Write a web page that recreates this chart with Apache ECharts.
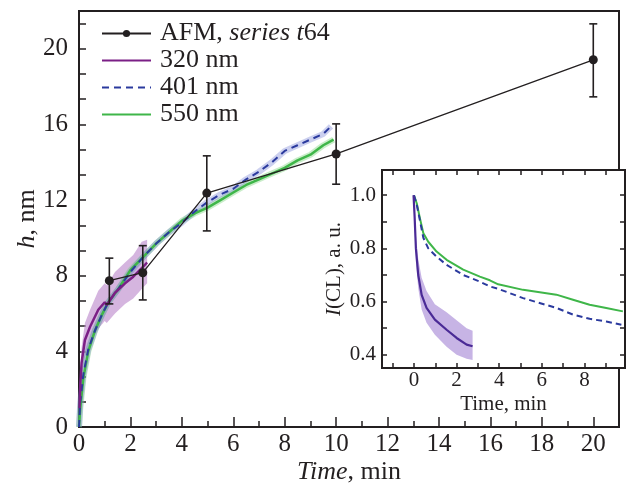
<!DOCTYPE html>
<html><head><meta charset="utf-8">
<script src="https://cdn.jsdelivr.net/npm/echarts@6/dist/echarts.min.js"></script>
<style>html,body{margin:0;padding:0;background:#fff}#c{width:628px;height:491px}</style>
</head><body><div id="c"></div>
<script>
// ---- AFM data (main plot) ----
const afmT  = [1.18, 2.48, 4.97, 10.0, 20.0];
const afmH  = [7.74, 8.16, 12.37, 14.44, 19.42];
const afmLo = [6.51, 6.72, 10.37, 12.84, 17.46];
const afmHi = [8.93, 9.59, 14.34, 16.03, 21.32];

// ---- 320 nm (main) ----
const t320   = [0.02, 0.05, 0.1, 0.23, 0.43, 0.75, 1.0, 1.08, 1.4, 1.79, 2.11, 2.44, 2.65];
const h320   = [1.0, 2.2, 3.4, 4.6, 5.3, 6.2, 6.6, 6.45, 7.1, 7.6, 7.95, 8.4, 8.7];
const h320Lo = [0.4, 1.5, 2.6, 3.7, 4.4, 5.2, 5.6, 5.5, 6.0, 6.5, 6.8, 7.3, 7.6];
const h320Hi = [1.6, 2.9, 4.2, 5.5, 6.2, 7.2, 7.6, 7.5, 8.2, 8.7, 9.1, 9.8, 9.9];

// ---- 401 nm (main) ----
const t401 = [0, 0.05, 0.17, 0.36, 0.62, 0.88, 1.14, 1.53, 2.0, 2.5, 3.0, 3.5, 4.0, 4.5, 5.0, 5.5, 6.0, 6.5, 7.0, 7.5, 8.0, 8.5, 9.0, 9.5, 9.8];
const h401 = [0, 1.3, 2.8, 4.1, 5.1, 5.9, 6.6, 7.3, 8.2, 9.0, 9.7, 10.3, 10.8, 11.4, 11.9, 12.3, 12.6, 13.1, 13.5, 14.0, 14.6, 14.9, 15.2, 15.5, 15.9];

// ---- 550 nm (main) ----
const t550 = [0, 0.05, 0.17, 0.36, 0.62, 0.88, 1.14, 1.53, 2.0, 2.5, 3.0, 3.5, 4.0, 4.5, 5.0, 5.5, 6.0, 6.5, 7.0, 7.5, 8.0, 8.5, 9.0, 9.5, 9.9];
const h550 = [0, 1.0, 2.6, 4.0, 5.1, 5.9, 6.6, 7.3, 8.3, 9.0, 9.7, 10.3, 10.9, 11.3, 11.6, 12.0, 12.4, 12.8, 13.1, 13.4, 13.7, 14.1, 14.4, 14.9, 15.2];

// ---- inset: I(CL) vs time ----
const tIn550 = [0, 0.13, 0.28, 0.44, 0.67, 1.06, 1.53, 2.31, 3.09, 3.56, 3.95, 5.12, 6.68, 7.46, 8.24, 9.02, 9.8];
const iIn550 = [1.0, 0.97, 0.913, 0.857, 0.825, 0.788, 0.757, 0.72, 0.694, 0.68, 0.665, 0.644, 0.626, 0.607, 0.588, 0.576, 0.563];
const tIn401 = [0, 0.13, 0.28, 0.44, 0.67, 1.06, 1.53, 2.31, 3.09, 3.56, 3.95, 5.12, 6.68, 7.46, 8.24, 9.02, 9.73];
const iIn401 = [1.0, 0.965, 0.905, 0.84, 0.80, 0.769, 0.738, 0.70, 0.675, 0.657, 0.648, 0.613, 0.576, 0.551, 0.535, 0.525, 0.513];
const tIn320   = [-0.02, 0.03, 0.09, 0.2, 0.36, 0.59, 0.98, 1.53, 2.0, 2.47, 2.75];
const iIn320   = [1.0, 0.92, 0.80, 0.70, 0.625, 0.576, 0.532, 0.494, 0.463, 0.438, 0.432];
const iIn320Lo = [0.98, 0.88, 0.75, 0.65, 0.57, 0.52, 0.475, 0.43, 0.40, 0.385, 0.38];
const iIn320Hi = [1.0, 0.95, 0.85, 0.76, 0.69, 0.64, 0.59, 0.56, 0.53, 0.50, 0.49];

// ---- ticks ----
const mainXLabels = [0, 2, 4, 6, 8, 10, 12, 14, 16, 18, 20];
const mainXMinor  = [1, 3, 5, 7, 9, 11, 13, 15, 17, 19];
const mainYLabels = [0, 4, 8, 12, 16, 20];
const mainYTicks  = [];
for (let k = 0; k <= 16; k++) mainYTicks.push(k * 4 / 3);
const inXLabels = [0, 2, 4, 6, 8];
const inXTicks  = [-1, 0, 1, 2, 3, 4, 5, 6, 7, 8, 9];
const inYLabels = [0.4, 0.6, 0.8, 1.0];
const inYTicks  = [0.4, 0.5, 0.6, 0.7, 0.8, 0.9, 1.0];

const FF = "'Liberation Serif', 'Times New Roman', serif";
const INK = '#231f20';

const zip = (a, b) => a.map((v, i) => [v, b[i]]);

function band(xs, lo, hi, xi, yi, color, z) {
  return {
    type: 'custom', xAxisIndex: xi, yAxisIndex: yi, z: z, silent: true, clip: true,
    data: xs.map((x, i) => [x, lo[i], hi[i]]),
    renderItem: function (params, api) {
      if (params.dataIndex !== 0) return;
      const top = xs.map((x, i) => api.coord([x, hi[i]]));
      const bot = xs.map((x, i) => api.coord([x, lo[i]])).reverse();
      return { type: 'polygon', shape: { points: top.concat(bot) }, style: { fill: color } };
    }
  };
}

const chart = echarts.init(document.getElementById('c'), null, { renderer: 'canvas' });

const axisCommon = {
  type: 'value',
  splitLine: { show: false },
  nameMoveOverlap: false,
  axisLine: { show: true, onZero: false, lineStyle: { color: INK, width: 2 } }
};

chart.setOption({
  animation: false,
  backgroundColor: '#fff',
  grid: [
    { left: 79, top: 11, width: 540, height: 416, show: true, borderColor: INK, borderWidth: 2, z: 0, outerBoundsMode: 'none', containLabel: false },
    { left: 382, top: 170, width: 243, height: 198, show: true, backgroundColor: '#fff', borderColor: INK, borderWidth: 2, z: 10, outerBoundsMode: 'none', containLabel: false }
  ],
  legend: {
    orient: 'vertical', left: 101, top: 20, itemWidth: 49, itemHeight: 9, itemGap: 0, padding: 0,
    data: [
      { name: 'AFM' },
      { name: '320 nm', itemStyle: { opacity: 0 } },
      { name: '401 nm', itemStyle: { opacity: 0 } },
      { name: '550 nm', itemStyle: { opacity: 0 } }
    ],
    formatter: n => n === 'AFM' ? '{a|AFM, }{b|series t}{a|64}' : '{a|' + n + '}',
    textStyle: {
      fontFamily: FF, fontSize: 26, color: INK, lineHeight: 27, padding: [0, 0, 0, 4],
      rich: {
        a: { fontFamily: FF, fontSize: 26, color: INK, lineHeight: 27 },
        b: { fontFamily: FF, fontSize: 26, color: INK, lineHeight: 27, fontStyle: 'italic' }
      }
    }
  },
  xAxis: [
    Object.assign({}, axisCommon, {
      gridIndex: 0, min: 0, max: 21,
      axisTick: { inside: true, length: 10, customValues: mainXLabels, lineStyle: { color: INK, width: 1.5 } },
      axisLabel: { customValues: mainXLabels, fontFamily: FF, fontSize: 25, color: INK, margin: 5 },
      name: '{i|Time}{n|, min}', nameLocation: 'middle', nameGap: 32,
      nameTextStyle: { rich: {
        i: { fontFamily: FF, fontSize: 26, color: INK, fontStyle: 'italic' },
        n: { fontFamily: FF, fontSize: 26, color: INK } } }
    }),
    Object.assign({}, axisCommon, {
      gridIndex: 0, min: 0, max: 21, position: 'bottom',
      axisLine: { show: false },
      axisTick: { inside: true, length: 6, customValues: mainXMinor, lineStyle: { color: INK, width: 1.5 } },
      axisLabel: { show: false }
    }),
    Object.assign({}, axisCommon, {
      gridIndex: 1, min: -1.5, max: 9.9, z: 11,
      axisTick: { inside: true, length: 5, customValues: inXTicks, lineStyle: { color: INK, width: 1.5 } },
      axisLabel: { customValues: inXLabels, fontFamily: FF, fontSize: 21, color: INK, margin: 2 },
      name: 'Time, min', nameLocation: 'middle', nameGap: 26,
      nameTextStyle: { fontFamily: FF, fontSize: 21, color: INK }
    }),
    Object.assign({}, axisCommon, {
      gridIndex: 1, min: -1.5, max: 9.9, z: 11, position: 'top',
      axisTick: { inside: true, length: 5, customValues: inXTicks, lineStyle: { color: INK, width: 1.5 } },
      axisLabel: { show: false }
    })
  ],
  yAxis: [
    Object.assign({}, axisCommon, {
      gridIndex: 0, min: 0, max: 22,
      axisTick: { inside: true, length: 7, customValues: mainYTicks, lineStyle: { color: INK, width: 1.5 } },
      axisLabel: { customValues: mainYLabels, fontFamily: FF, fontSize: 25, color: INK, margin: 11 },
      name: '{i|h}{n|, nm}', nameLocation: 'middle', nameGap: 39, nameRotate: 90,
      nameTextStyle: { rich: {
        i: { fontFamily: FF, fontSize: 26, color: INK, fontStyle: 'italic' },
        n: { fontFamily: FF, fontSize: 26, color: INK } } }
    }),
    Object.assign({}, axisCommon, {
      gridIndex: 0, min: 0, max: 22, position: 'left',
      axisLine: { show: false }, axisTick: { show: false }, axisLabel: { show: false }
    }),
    Object.assign({}, axisCommon, {
      gridIndex: 1, min: 0.35, max: 1.095, z: 11,
      axisTick: { inside: true, length: 5, customValues: inYTicks, lineStyle: { color: INK, width: 1.5 } },
      axisLabel: { customValues: inYLabels, formatter: v => v.toFixed(1), fontFamily: FF, fontSize: 21, color: INK, margin: 6 },
      name: '{i|I}{n|(CL), a. u.}', nameLocation: 'middle', nameGap: 37, nameRotate: 90,
      nameTextStyle: { rich: {
        i: { fontFamily: FF, fontSize: 21, color: INK, fontStyle: 'italic' },
        n: { fontFamily: FF, fontSize: 21, color: INK } } }
    }),
    Object.assign({}, axisCommon, {
      gridIndex: 1, min: 0.35, max: 1.095, z: 11, position: 'right',
      axisTick: { inside: true, length: 5, customValues: inYTicks, lineStyle: { color: INK, width: 1.5 } },
      axisLabel: { show: false }
    })
  ],
  series: [
    // main plot
    band(t320, h320Lo, h320Hi, 0, 0, 'rgba(195,150,210,0.7)', 2),
    { type: 'line', name: 'h550halo', xAxisIndex: 0, yAxisIndex: 0, data: zip(t550, h550), showSymbol: false, symbol: 'none', z: 2,
      lineStyle: { color: 'rgba(120,210,120,0.4)', width: 6 }, silent: true },
    { type: 'line', name: 'h401halo', xAxisIndex: 0, yAxisIndex: 0, data: zip(t401, h401), showSymbol: false, symbol: 'none', z: 2,
      lineStyle: { color: 'rgba(110,120,210,0.35)', width: 6 }, silent: true },
    { type: 'line', name: '550 nm', xAxisIndex: 0, yAxisIndex: 0, data: zip(t550, h550), symbol: 'none', z: 3,
      color: '#3fb649', lineStyle: { color: '#3fb649', width: 2.5 } },
    { type: 'line', name: '401 nm', xAxisIndex: 0, yAxisIndex: 0, data: zip(t401, h401), symbol: 'none', z: 4,
      color: '#2b3a9e', lineStyle: { color: '#2b3a9e', width: 2, type: [7, 5] } },
    { type: 'line', name: '320 nm', xAxisIndex: 0, yAxisIndex: 0, data: zip(t320, h320), symbol: 'none', z: 5,
      color: '#7b1f86', lineStyle: { color: '#7b1f86', width: 2.5 } },
    { type: 'line', name: 'AFM', xAxisIndex: 0, yAxisIndex: 0, data: zip(afmT, afmH), symbol: 'circle', symbolSize: 9, z: 6,
      color: INK, itemStyle: { color: INK }, lineStyle: { color: INK, width: 1.3 } },
    { type: 'custom', name: 'AFMerr', xAxisIndex: 0, yAxisIndex: 0, z: 6, silent: true,
      data: afmT.map((t, i) => [t, afmLo[i], afmHi[i]]),
      renderItem: function (params, api) {
        const x = api.value(0);
        const a = api.coord([x, api.value(1)]);
        const b = api.coord([x, api.value(2)]);
        const w = 4;
        const st = { stroke: INK, lineWidth: 1.6 };
        return { type: 'group', children: [
          { type: 'line', shape: { x1: a[0], y1: a[1], x2: b[0], y2: b[1] }, style: st },
          { type: 'line', shape: { x1: a[0] - w, y1: a[1], x2: a[0] + w, y2: a[1] }, style: st },
          { type: 'line', shape: { x1: b[0] - w, y1: b[1], x2: b[0] + w, y2: b[1] }, style: st }
        ] };
      }
    },
    // inset
    band(tIn320, iIn320Lo, iIn320Hi, 2, 2, 'rgba(180,155,220,0.75)', 12),
    { type: 'line', name: 'in550', xAxisIndex: 2, yAxisIndex: 2, data: zip(tIn550, iIn550), symbol: 'none', z: 13,
      lineStyle: { color: '#3fb649', width: 2 }, silent: true },
    { type: 'line', name: 'in401', xAxisIndex: 2, yAxisIndex: 2, data: zip(tIn401, iIn401), symbol: 'none', z: 14,
      lineStyle: { color: '#2b3a9e', width: 2, type: [6, 4] }, silent: true },
    { type: 'line', name: 'in320', xAxisIndex: 2, yAxisIndex: 2, data: zip(tIn320, iIn320), symbol: 'none', z: 14,
      lineStyle: { color: '#4a2a96', width: 2.2 }, silent: true }
  ]
});
</script>
</body></html>
